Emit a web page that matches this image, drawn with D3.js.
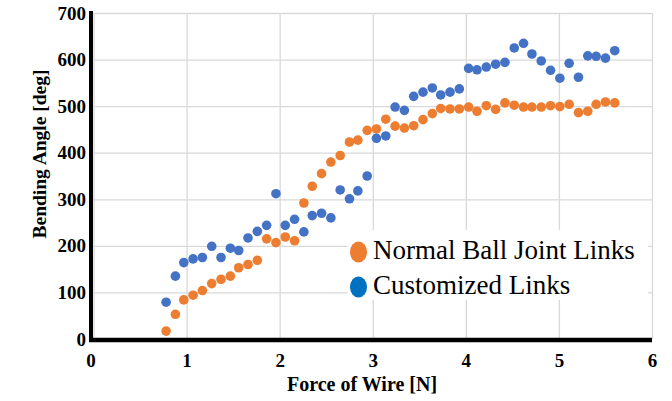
<!DOCTYPE html>
<html>
<head>
<meta charset="utf-8">
<script src="https://cdn.jsdelivr.net/npm/d3@7"></script>
<style>
  body { margin: 0; background: #fff; }
  svg text { font-family: "Liberation Serif", "Times New Roman", serif; }
</style>
</head>
<body>
<div id="chart"></div>
<script>
// Force of wire [N]
const forceN = [0.78, 0.88, 0.97, 1.07, 1.17, 1.27, 1.37, 1.47, 1.56, 1.66,
    1.76, 1.86, 1.96, 2.06, 2.16, 2.26, 2.35, 2.45, 2.55, 2.65,
    2.75, 2.84, 2.94, 3.04, 3.14, 3.24, 3.34, 3.44, 3.54, 3.64,
    3.73, 3.83, 3.93, 4.03, 4.12, 4.22, 4.32, 4.42, 4.52, 4.62,
    4.71, 4.81, 4.91, 5.01, 5.11, 5.21, 5.31, 5.40, 5.50, 5.60];

// Bending angle [deg]
const normalBall = [17, 53, 84, 94, 104, 119, 128, 135, 153, 160,
    169, 215, 207, 219, 211, 292, 328, 355, 380, 394,
    423, 427, 448, 451, 472, 457, 453, 458, 471, 484,
    495, 494, 494, 498, 489, 501, 493, 507, 502, 498,
    498, 498, 501, 499, 504, 486, 489, 504, 509, 507];

const customized = [79, 135, 164, 172, 175, 199, 175, 195, 190, 217,
    231, 244, 312, 244, 257, 230, 265, 270, 260, 320,
    301, 318, 350, 431, 436, 498, 491, 521, 530, 539,
    524, 530, 537, 581, 578, 584, 590, 594, 625, 635,
    612, 597, 577, 560, 592, 562, 608, 607, 603, 619];

const xTicks = [0, 1, 2, 3, 4, 5, 6];
const yTicks = [0, 100, 200, 300, 400, 500, 600, 700];
const seriesNames = ["Normal Ball Joint Links", "Customized Links"];

let width = 672, height = 401;
let plotLeft = 93.5, plotRight = 652, plotTop = 13, plotBottom = 339;
let serif = "Liberation Serif, Times New Roman, serif";

let x = d3.scaleLinear().domain([0, 6]).range([plotLeft, plotRight]);
let y = d3.scaleLinear().domain([0, 700]).range([plotBottom, plotTop]);

var svg = d3.select("#chart").append("svg")
    .attr("width", width)
    .attr("height", height);

// gridlines
svg.append("g")
    .attr("transform", "translate(0," + plotBottom + ")")
    .call(d3.axisBottom(x).tickValues(xTicks).tickSize(-(plotBottom - plotTop)).tickFormat(""))
    .call(g => g.select(".domain").remove())
    .selectAll("line").attr("stroke", "#d9d9d9").attr("stroke-width", 1.3);

svg.append("g")
    .attr("transform", "translate(" + plotLeft + ",0)")
    .call(d3.axisLeft(y).tickValues(yTicks).tickSize(-(plotRight - plotLeft)).tickFormat(""))
    .call(g => g.select(".domain").remove())
    .selectAll("line").attr("stroke", "#d9d9d9").attr("stroke-width", 1.3);

// points
let series = [
    {name: seriesNames[0], values: normalBall, color: "#ED7D31"},
    {name: seriesNames[1], values: customized, color: "#4472C4"}
];

series.forEach(function (s) {
    svg.append("g").selectAll("circle")
        .data(s.values)
        .enter().append("circle")
        .attr("cx", (d, i) => x(forceN[i]))
        .attr("cy", d => y(d))
        .attr("r", 4.8)
        .style("fill", s.color);
});

// axis lines
svg.append("line")
    .attr("x1", 91).attr("x2", 91)
    .attr("y1", plotTop - 2).attr("y2", 342)
    .attr("stroke", "#000").attr("stroke-width", 4);
svg.append("line")
    .attr("x1", 89).attr("x2", plotRight)
    .attr("y1", 340).attr("y2", 340)
    .attr("stroke", "#000").attr("stroke-width", 4.5);

// tick labels
let xAxis = svg.append("g")
    .attr("transform", "translate(0,353)")
    .call(d3.axisBottom(x).tickValues(xTicks).tickFormat(d3.format("d")).tickSize(0).tickPadding(0))
    .attr("font-family", serif)
    .attr("font-size", 19)
    .attr("font-weight", "bold");
xAxis.select(".domain").remove();
xAxis.selectAll("text")
    .attr("dy", "0.71em")
    .attr("fill", "#000");
xAxis.selectAll("text").filter(d => d === 0).attr("x", -3);

let yAxis = svg.append("g")
    .attr("transform", "translate(86,0)")
    .call(d3.axisLeft(y).tickValues(yTicks).tickFormat(d3.format("d")).tickSize(0).tickPadding(0))
    .attr("font-family", serif)
    .attr("font-size", 19)
    .attr("font-weight", "bold");
yAxis.select(".domain").remove();
yAxis.selectAll("text").attr("fill", "#000");

// axis titles
svg.append("text")
    .attr("x", 362)
    .attr("y", 391)
    .attr("text-anchor", "middle")
    .style("font-weight", "bold")
    .style("font-size", "20px")
    .text("Force of Wire [N]");

svg.append("text")
    .attr("transform", "translate(46,154) rotate(-90)")
    .attr("text-anchor", "middle")
    .style("font-weight", "bold")
    .style("font-size", "19.5px")
    .text("Bending Angle [deg]");

// legend
let legend = svg.append("g").attr("class", "legend");
legend.append("rect")
    .attr("x", 348).attr("y", 230)
    .attr("width", 300).attr("height", 70)
    .attr("fill", "#fff");

let legendColors = ["#ED7D31", "#0070C0"];
let legendItems = legend.selectAll("g.item")
    .data(seriesNames)
    .enter().append("g")
    .attr("transform", (d, i) => "translate(0," + (i * 35) + ")");

legendItems.append("ellipse")
    .attr("cx", 358.5)
    .attr("cy", 252)
    .attr("rx", 8.5)
    .attr("ry", 10.5)
    .style("fill", (d, i) => legendColors[i]);

legendItems.append("text")
    .attr("x", 373)
    .attr("y", 259)
    .style("font-size", "27px")
    .text(d => d);
</script>
</body>
</html>
